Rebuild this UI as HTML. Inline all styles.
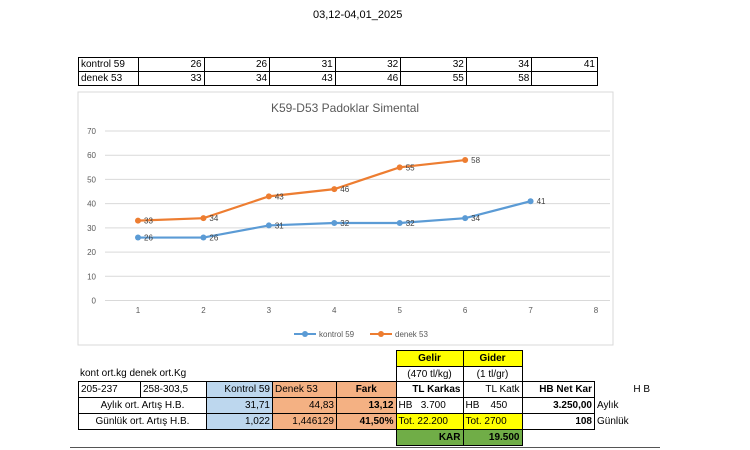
<!DOCTYPE html>
<html><head><meta charset="utf-8"><style>
body{margin:0;width:750px;height:450px;background:#fff;font-family:"Liberation Sans",sans-serif;position:relative;overflow:hidden}
.t{position:absolute;font-size:10px;color:#000;white-space:nowrap}
table{border-collapse:collapse;position:absolute;font-size:10px}
td{border:1px solid #000;padding:0 2px;height:13px;text-align:right;white-space:nowrap}
.b{background:#bdd7ee}.o{background:#f4b183}.y{background:#ffff00}.g{background:#70ad47}.n{border:none}
</style></head><body>
<div class="t" style="left:313px;top:9px;font-size:11px">03,12-04,01_2025</div>
<table style="left:78px;top:57px;width:520px">
<tr><td style="text-align:left;width:55px">kontrol 59</td><td>26</td><td>26</td><td>31</td><td>32</td><td>32</td><td>34</td><td>41</td></tr>
<tr><td style="text-align:left">denek 53</td><td>33</td><td>34</td><td>43</td><td>46</td><td>55</td><td>58</td><td></td></tr>
</table>
<svg id="chart" style="position:absolute;left:0;top:0" width="750" height="450"></svg>
<div class="t" style="left:80px;top:368px">kont ort.kg denek ort.Kg</div>
<table style="left:78px;top:350px">
<tr style="height:16px"><td class="n" style="width:58px"></td><td class="n" style="width:62px"></td><td class="n" style="width:62px"></td><td class="n" style="width:60px"></td><td class="n" style="width:55px"></td><td class="y" style="width:62px;text-align:center;font-weight:bold">Gelir</td><td class="y" style="width:54px;text-align:center;font-weight:bold">Gider</td><td class="n" style="width:68px"></td><td class="n" style="width:60px"></td></tr>
<tr style="height:15px"><td class="n"></td><td class="n"></td><td class="n"></td><td class="n"></td><td class="n"></td><td style="text-align:center">(470 tl/kg)</td><td style="text-align:center">(1 tl/gr)</td><td class="n"></td><td class="n"></td></tr>
<tr style="height:16px"><td style="text-align:left">205-237</td><td style="text-align:left">258-303,5</td><td class="b">Kontrol 59</td><td class="o" style="text-align:left">Denek 53</td><td class="o" style="text-align:center;font-weight:bold">Fark</td><td style="font-weight:bold">TL Karkas</td><td>TL Katk</td><td style="font-weight:bold">HB Net Kar</td><td class="n" style="text-align:right;padding-right:8px">H B</td></tr>
<tr style="height:16px"><td colspan="2" style="text-align:center">Aylık ort. Artış H.B.</td><td class="b">31,71</td><td class="o">44,83</td><td class="o" style="font-weight:bold">13,12</td><td style="text-align:left">HB &nbsp;&nbsp;3.700</td><td style="text-align:left">HB &nbsp;&nbsp;&nbsp;450</td><td style="font-weight:bold">3.250,00</td><td class="n" style="text-align:left">Aylık</td></tr>
<tr style="height:16px"><td colspan="2" style="text-align:center">Günlük ort. Artış H.B.</td><td class="b">1,022</td><td class="o">1,446129</td><td class="o" style="font-weight:bold">41,50%</td><td class="y" style="text-align:left">Tot. 22.200</td><td class="y" style="text-align:left">Tot. 2700</td><td style="font-weight:bold">108</td><td class="n" style="text-align:left">Günlük</td></tr>
<tr style="height:16px"><td class="n"></td><td class="n"></td><td class="n"></td><td class="n"></td><td class="n"></td><td class="g" style="font-weight:bold">KAR</td><td class="g" style="font-weight:bold">19.500</td><td class="n"></td><td class="n"></td></tr>
</table>
<div style="position:absolute;left:70px;top:447px;width:590px;height:1px;background:#555"></div>
<script>
const categories=[1,2,3,4,5,6,7];
const kontrol=[26,26,31,32,32,34,41];
const denek=[33,34,43,46,55,58];
const yTicks=[0,10,20,30,40,50,60,70];
const xTicks=[1,2,3,4,5,6,7,8];
const NS="http://www.w3.org/2000/svg";
const svg=document.getElementById('chart');
const X=v=>138+(v-1)*(596-138)/7;
const Y=v=>300.5-v*(300.5-131)/70;
function mk(t,a){const e=document.createElementNS(NS,t);for(const k in a)e.setAttribute(k,a[k]);svg.appendChild(e);return e;}
let e=mk('rect',{x:78,y:92,width:535,height:253,fill:'#fff',stroke:'#d9d9d9'});


e=mk('text',{x:345,y:112,'text-anchor':'middle','font-size':12,fill:'#595959','font-family':'Liberation Sans'});e.textContent='K59-D53 Padoklar Simental';


yTicks.forEach(v=>{
 e=mk('line',{x1:105,x2:610,y1:Y(v),y2:Y(v),stroke:'#d9d9d9'});
 
 
 e=mk('text',{x:96,y:Y(v)+3,'text-anchor':'end','font-size':8,fill:'#595959'});e.textContent=v;
 
 
});
xTicks.forEach(v=>{
 e=mk('text',{x:X(v),y:313,'text-anchor':'middle','font-size':8,fill:'#595959'});e.textContent=v;
 
 
});
function series(vals,col,name){
 e=mk('polyline',{points:vals.map((v,i)=>X(categories[i])+','+Y(v)).join(' '),fill:'none',stroke:col,'stroke-width':2.2});
 
 
 vals.forEach((v,i)=>{
  e=mk('circle',{cx:X(categories[i]),cy:Y(v),r:3,fill:col});
  
  
  e=mk('text',{x:X(categories[i])+6,y:Y(v)+3,'font-size':8,fill:'#404040'});e.textContent=v;
  
  
 });
}
series(kontrol,'#5b9bd5','kontrol');
series(denek,'#ed7d31','denek');
[[294,'#5b9bd5','kontrol 59'],[370,'#ed7d31','denek 53']].forEach(([x,c,l])=>{
 e=mk('line',{x1:x,x2:x+22,y1:334,y2:334,stroke:c,'stroke-width':2});
 
 
 mk('circle',{cx:x+11,cy:334,r:3,fill:c});
 e=mk('text',{x:x+25,y:337,'font-size':8,fill:'#595959'});e.textContent=l;
 
 
});
</script>
</body></html>
